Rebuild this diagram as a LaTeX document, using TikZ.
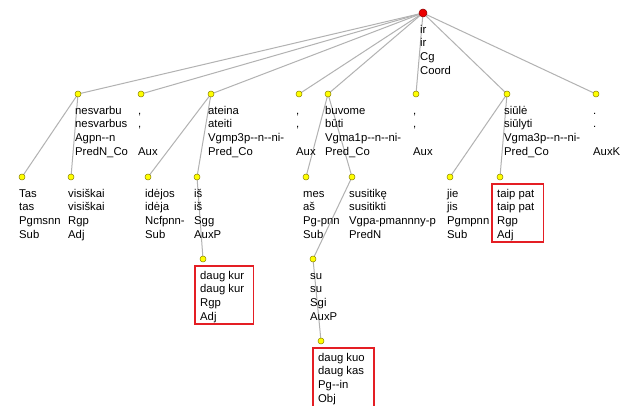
\documentclass[tikz,border=0pt]{standalone}
\usepackage{fontspec}
\setmainfont{Liberation Sans}[Ligatures=TeXOff]
\usetikzlibrary{backgrounds}
\definecolor{edgegray}{RGB}{178,178,178}
\definecolor{dotfill}{RGB}{255,255,0}
\definecolor{dotline}{RGB}{140,130,0}
\definecolor{rootred}{RGB}{235,0,0}
\definecolor{boxred}{RGB}{228,30,36}
% four stacked fields of a token: form, lemma, tag, function
\newcommand\fourrows[4]{\begin{tabular}{@{}l@{}}#1\\#2\\#3\\#4\end{tabular}}
\begin{document}
\begin{tikzpicture}[x=1pt,y=-1pt,
  tok/.style={circle,fill=dotfill,draw=dotline,line width=0.5pt,minimum size=6pt,inner sep=0pt},
  rootdot/.style={circle,fill=rootred,draw=red!55!black,line width=0.5pt,minimum size=8pt,inner sep=0pt},
  edge/.style={draw=edgegray,line width=1pt},
  lbl/.style={anchor=north west,inner sep=0pt,
    font=\fontsize{11.3}{13.7}\selectfont},
  redbox/.style={draw=boxred,line width=1.4pt}]
\clip (0,0) rectangle (629,406);

% token dots
\node[rootdot] (root) at (423,13) {};
\node[tok] (nesvarbu) at (78,94) {};
\node[tok] (comA) at (141,94) {};
\node[tok] (ateina) at (211,94) {};
\node[tok] (comB) at (299,94) {};
\node[tok] (buvome) at (328,94) {};
\node[tok] (comC) at (416,94) {};
\node[tok] (siule) at (507,94) {};
\node[tok] (period) at (596,94) {};
\node[tok] (tas) at (22,177) {};
\node[tok] (visiskai) at (71,177) {};
\node[tok] (idejos) at (148,177) {};
\node[tok] (is) at (197,177) {};
\node[tok] (mes) at (306,177) {};
\node[tok] (susitike) at (352,177) {};
\node[tok] (jie) at (450,177) {};
\node[tok] (taippat) at (500,177) {};
\node[tok] (daugkur) at (203,259) {};
\node[tok] (su) at (313,259) {};
\node[tok] (daugkuo) at (321,341) {};

% white ground and dependency edges behind the dots
\begin{scope}[on background layer]
\fill[white] (0,0) rectangle (629,406);
\foreach \p/\c in {root/nesvarbu,root/comA,root/ateina,root/comB,root/buvome,
    root/comC,root/siule,root/period,nesvarbu/tas,nesvarbu/visiskai,
    ateina/idejos,ateina/is,buvome/mes,buvome/susitike,siule/jie,siule/taippat,
    is/daugkur,susitike/su,su/daugkuo}
  \draw[edge] (\p.center) -- (\c.center);
\end{scope}

% token labels
\node[lbl] (t-root) at ([shift={(-3,10.5)}]root.center) {\fourrows{ir}{ir}{Cg}{Coord}};
\node[lbl] (t-nesvarbu) at ([shift={(-3,10.5)}]nesvarbu.center) {\fourrows{nesvarbu}{nesvarbus}{Agpn--n}{PredN\_Co}};
\node[lbl] (t-comA) at ([shift={(-3,10.5)}]comA.center) {\fourrows{,}{,}{}{Aux}};
\node[lbl] (t-ateina) at ([shift={(-3,10.5)}]ateina.center) {\fourrows{ateina}{ateiti}{Vgmp3p--n--ni-}{Pred\_Co}};
\node[lbl] (t-comB) at ([shift={(-3,10.5)}]comB.center) {\fourrows{,}{,}{}{Aux}};
\node[lbl] (t-buvome) at ([shift={(-3,10.5)}]buvome.center) {\fourrows{buvome}{būti}{Vgma1p--n--ni-}{Pred\_Co}};
\node[lbl] (t-comC) at ([shift={(-3,10.5)}]comC.center) {\fourrows{,}{,}{}{Aux}};
\node[lbl] (t-siule) at ([shift={(-3,10.5)}]siule.center) {\fourrows{siūlė}{siūlyti}{Vgma3p--n--ni-}{Pred\_Co}};
\node[lbl] (t-period) at ([shift={(-3,10.5)}]period.center) {\fourrows{.}{.}{}{AuxK}};
\node[lbl] (t-tas) at ([shift={(-3,10.5)}]tas.center) {\fourrows{Tas}{tas}{Pgmsnn}{Sub}};
\node[lbl] (t-visiskai) at ([shift={(-3,10.5)}]visiskai.center) {\fourrows{visiškai}{visiškai}{Rgp}{Adj}};
\node[lbl] (t-idejos) at ([shift={(-3,10.5)}]idejos.center) {\fourrows{idėjos}{idėja}{Ncfpnn-}{Sub}};
\node[lbl] (t-is) at ([shift={(-3,10.5)}]is.center) {\fourrows{iš}{iš}{Sgg}{AuxP}};
\node[lbl] (t-mes) at ([shift={(-3,10.5)}]mes.center) {\fourrows{mes}{aš}{Pg-pnn}{Sub}};
\node[lbl] (t-susitike) at ([shift={(-3,10.5)}]susitike.center) {\fourrows{susitikę}{susitikti}{Vgpa-pmannny-p}{PredN}};
\node[lbl] (t-jie) at ([shift={(-3,10.5)}]jie.center) {\fourrows{jie}{jis}{Pgmpnn}{Sub}};
\node[lbl] (t-taippat) at ([shift={(-3,10.5)}]taippat.center) {\fourrows{taip pat}{taip pat}{Rgp}{Adj}};
\node[lbl] (t-daugkur) at ([shift={(-3,10.5)}]daugkur.center) {\fourrows{daug kur}{daug kur}{Rgp}{Adj}};
\node[lbl] (t-su) at ([shift={(-3,10.5)}]su.center) {\fourrows{su}{su}{Sgi}{AuxP}};
\node[lbl] (t-daugkuo) at ([shift={(-3,10.5)}]daugkuo.center) {\fourrows{daug kuo}{daug kas}{Pg--in}{Obj}};

% highlighted tokens (the lowest box runs on past the lower edge)
\foreach \t in {t-taippat,t-daugkur}
  \draw[redbox] ([shift={(-5,-3.5)}]\t.north west) rectangle ([shift={(9,54.5)}]\t.north east);
\draw[redbox] ([shift={(-5,-3.5)}]t-daugkuo.north west) rectangle ([shift={(9,62)}]t-daugkuo.north east);
\end{tikzpicture}
\end{document}
